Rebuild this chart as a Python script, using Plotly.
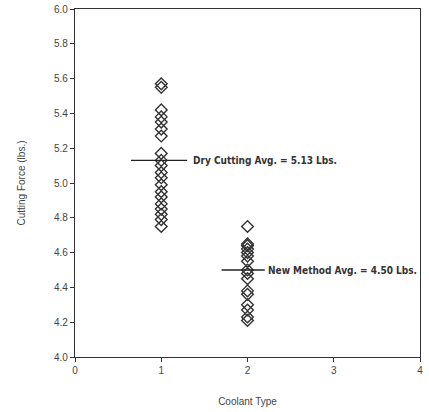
import plotly.graph_objects as go

dry_x = 1
dry_values = [5.57, 5.55, 5.42, 5.38, 5.35, 5.31, 5.27, 5.17, 5.13, 5.10, 5.06, 5.03,
              4.99, 4.95, 4.92, 4.88, 4.85, 4.82, 4.79, 4.75]
new_x = 2
new_values = [4.75, 4.65, 4.64, 4.62, 4.60, 4.58, 4.55, 4.50, 4.48, 4.45, 4.38, 4.36,
              4.30, 4.27, 4.23, 4.21]
dry_avg = 5.13
new_avg = 4.50
dry_line_x = [0.65, 1.3]
new_line_x = [1.7, 2.2]
dry_label = "Dry Cutting Avg. = 5.13 Lbs."
new_label = "New Method Avg. = 4.50 Lbs."
x_ticks = [0, 1, 2, 3, 4]
y_ticks = [4.0, 4.2, 4.4, 4.6, 4.8, 5.0, 5.2, 5.4, 5.6, 5.8, 6.0]

mk = dict(symbol="diamond-open", size=9, color="#333333", line=dict(width=1.4, color="#333333"))

fig = go.Figure()
fig.add_trace(go.Scatter(x=[dry_x] * len(dry_values), y=dry_values, mode="markers", marker=mk, cliponaxis=False))
fig.add_trace(go.Scatter(x=[new_x] * len(new_values), y=new_values, mode="markers", marker=mk, cliponaxis=False))
fig.add_trace(go.Scatter(x=dry_line_x, y=[dry_avg] * 2, mode="lines", line=dict(color="#222222", width=1.3)))
fig.add_trace(go.Scatter(x=new_line_x, y=[new_avg] * 2, mode="lines", line=dict(color="#222222", width=1.3)))

ann_font = dict(family="DejaVu Sans Condensed, Liberation Sans Narrow, sans-serif", size=10, color="#333333",
                weight="bold")
fig.add_annotation(x=dry_line_x[1], y=dry_avg, text=dry_label, showarrow=False,
                   xanchor="left", yanchor="middle", xshift=4, font=ann_font)
fig.add_annotation(x=new_line_x[1], y=new_avg, text=new_label, showarrow=False,
                   xanchor="left", yanchor="middle", xshift=1, font=ann_font)

axis_font = dict(family="Liberation Sans, Arial, sans-serif", size=10, color="#444444")
fig.update_layout(
    width=429, height=412,
    margin=dict(l=75, r=9, t=9, b=55),
    plot_bgcolor="white", paper_bgcolor="white",
    showlegend=False,
    font=axis_font,
    xaxis=dict(range=[0, 4], tickvals=x_ticks, ticktext=[str(v) for v in x_ticks],
               showgrid=False, zeroline=False, showline=True, linecolor="#333333", linewidth=1.2,
               mirror=True, ticks="outside", ticklen=4, tickcolor="#333333", automargin=False,
               title=dict(text="Coolant Type", font=axis_font, standoff=22)),
    yaxis=dict(range=[4.0, 6.0], tickvals=y_ticks, ticktext=[f"{v:.1f}" for v in y_ticks],
               showgrid=False, zeroline=False, showline=True, linecolor="#333333", linewidth=1.2,
               mirror=True, ticks="outside", ticklen=4, tickcolor="#333333", automargin=False,
               title=dict(text="Cutting Force (lbs.)", font=axis_font, standoff=26)),
)

fig.write_html("out.html")
